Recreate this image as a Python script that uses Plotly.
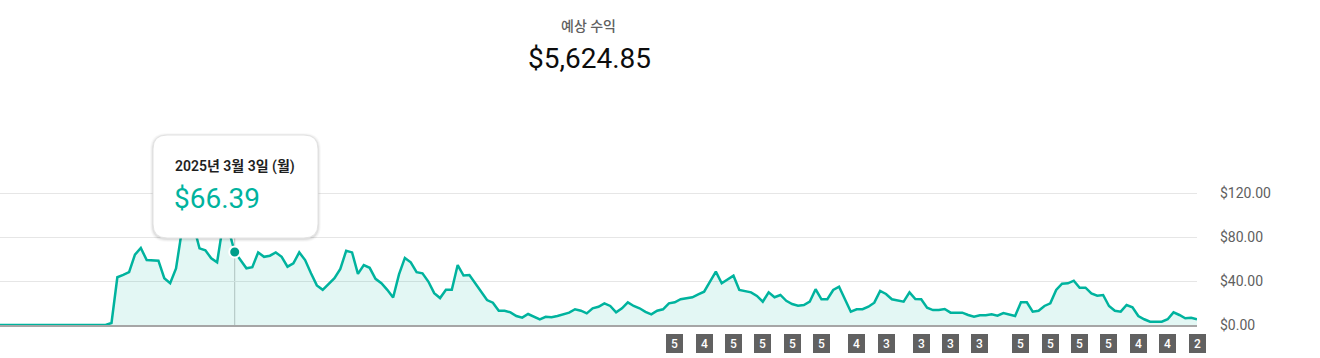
import plotly.graph_objects as go
import pandas as pd

# ---------------- data ----------------
start_date = "2025-01-22"
revenue = [
    0, 0, 0, 0, 0, 0, 0, 0, 0, 0, 0, 0, 0, 0, 0, 0, 0, 0, 0,
    1.8,
    43.4, 45.5, 48, 64, 70, 59, 59, 58.5, 42.5, 38, 51.5, 86, 95, 90, 69.7, 68, 60.6, 57, 91, 86, 66.39,
    58.5, 51.5, 52.5, 66, 62, 63, 66, 62, 53, 56, 66, 59, 47, 36, 32, 37, 42.5, 51, 67.5, 66,
    46.5, 54.5, 52, 42, 38, 32, 25, 46, 61, 57, 48, 47, 39.5, 29, 24.5, 32, 32, 54.5, 45, 45.5,
    38, 30, 22.7, 20.3, 13, 13, 11.5, 8.2, 6.7, 10, 7.5, 5.2, 7.5, 7, 8.2, 10, 11.2, 14.3, 13, 10.6,
    15.2, 16.6, 19.7, 17.3, 11.5, 15.2, 20.6, 17.3, 15.2, 12, 9.7, 13, 14.3, 19.7, 20.6, 23.4, 24.3, 25.2, 27.9, 30.3,
    39.4, 48.5, 38, 41.8, 44.8, 31.8, 30.9, 29.7, 26.4, 21.2, 29.7, 25.2, 27.3, 22, 19.1, 17.5, 18.2, 21.2, 32.5, 23.4,
    23.4, 31.8, 34.8, 22.7, 12.1, 14.3, 14.3, 16.6, 20.3, 30.9, 28.2, 23.4, 22, 21.2, 29.7, 23.6, 23.4, 15.8, 13.6, 13.6,
    14.5, 11.2, 11.2, 11.2, 9.1, 7.5, 8.8, 8.8, 9.7, 8.5, 10.9, 9.7, 8.2, 20.6, 20.6, 12.1, 13, 17.3, 19.7, 31.8,
    37.5, 37.9, 40.3, 33.9, 33.9, 28.8, 26.7, 27.3, 17.3, 13, 12.1, 18.2, 16.1, 8.2, 5.2, 3, 3, 3, 5.2, 11.5, 9.1, 6.1, 6.6, 5.2,
]
dates = pd.date_range(start_date, periods=len(revenue), freq="D")

y_ticks = [0, 40, 80, 120]
y_tick_labels = ["$0.00", "$40.00", "$80.00", "$120.00"]

title_label = "예상 수익"
total_label = "$5,624.85"

highlight_date = "2025-03-03"
highlight_value = 66.39
highlight_label = "2025년 3월 3일 (월)"
highlight_value_label = "$66.39"

marker_dates = ["2025-05-17", "2025-05-22", "2025-05-27", "2025-06-01", "2025-06-06", "2025-06-11",
                "2025-06-17", "2025-06-22", "2025-06-28", "2025-07-03", "2025-07-08",
                "2025-07-15", "2025-07-20", "2025-07-25", "2025-07-30", "2025-08-04", "2025-08-09",
                "2025-08-14"]
marker_counts = [5, 4, 5, 5, 5, 5, 4, 3, 3, 3, 3, 5, 5, 5, 5, 4, 4, 2]

# ---------------- style / layout ----------------
W, H = 1320, 358
PL, PR, PT, PB = 0, 1197, 187, 325
Y_TOP = 120 * (PB - PT) / 132.0   # 120 sits at y=193 px
TEAL = "#00B39E"
FONT = "Roboto, 'Noto Sans CJK KR', sans-serif"


def px(x):
    return (x - PL) / (PR - PL)


def py(y):
    return (PB - y) / (PB - PT)


def rounded_rect(x0, y0, x1, y1, r):
    rx = r / (PR - PL)
    ry = r / (PB - PT)
    X0, X1 = px(x0), px(x1)
    Y0, Y1 = py(y1), py(y0)  # bottom, top in paper
    return (f"M {X0+rx},{Y1} L {X1-rx},{Y1} Q {X1},{Y1} {X1},{Y1-ry} "
            f"L {X1},{Y0+ry} Q {X1},{Y0} {X1-rx},{Y0} "
            f"L {X0+rx},{Y0} Q {X0},{Y0} {X0},{Y0+ry} "
            f"L {X0},{Y1-ry} Q {X0},{Y1} {X0+rx},{Y1} Z")


fig = go.Figure()

fig.add_trace(go.Scatter(
    x=dates, y=revenue, mode="lines",
    line=dict(color=TEAL, width=2.5),
    fill="tozeroy", fillcolor="rgba(0,179,158,0.11)",
    hoverinfo="skip", showlegend=False,
))

fig.add_trace(go.Scatter(
    x=[highlight_date], y=[highlight_value], mode="markers",
    marker=dict(color="#009E8A", size=11, line=dict(color="white", width=2)),
    hoverinfo="skip", showlegend=False, cliponaxis=False,
))

shapes = []
# crosshair
shapes.append(dict(type="line", xref="x", yref="paper", x0=highlight_date, x1=highlight_date,
                   y0=0, y1=py(238), line=dict(color="#c4c4c4", width=1), layer="below"))
# tooltip shadow + box
tx0, ty0, tx1, ty1 = 153, 135, 318, 238
for d, a in [(3, 0.025), (2, 0.04), (1, 0.06)]:
    shapes.append(dict(type="path", xref="paper", yref="paper",
                       path=rounded_rect(tx0 - d, ty0 - d + 1, tx1 + d, ty1 + d + 1, 14 + d),
                       fillcolor=f"rgba(0,0,0,{a})", line=dict(width=0), layer="above"))
shapes.append(dict(type="path", xref="paper", yref="paper",
                   path=rounded_rect(tx0, ty0, tx1, ty1, 14),
                   fillcolor="white", line=dict(color="#e2e2e2", width=1), layer="above"))

annotations = [
    dict(text=title_label, x=px(588), y=py(26), xref="paper", yref="paper",
         showarrow=False, xanchor="center", yanchor="middle",
         font=dict(family=FONT, size=14, color="#606060", weight=500)),
    dict(text=total_label, x=px(589), y=py(58), xref="paper", yref="paper",
         showarrow=False, xanchor="center", yanchor="middle",
         font=dict(family=FONT, size=28, color="#0d0d0d")),
    dict(text=highlight_label, x=px(173), y=py(166), xref="paper", yref="paper",
         showarrow=False, xanchor="left", yanchor="middle",
         font=dict(family=FONT, size=14, color="#1f1f1f", weight=600)),
    dict(text=highlight_value_label, x=px(172), y=py(198), xref="paper", yref="paper",
         showarrow=False, xanchor="left", yanchor="middle",
         font=dict(family=FONT, size=28, color=TEAL)),
]

for d, c in zip(marker_dates, marker_counts):
    annotations.append(dict(
        text=str(c), x=d, xref="x", y=py(343), yref="paper",
        showarrow=False, xanchor="center", yanchor="middle",
        width=13, height=15, borderpad=1, borderwidth=1,
        bgcolor="#616161", bordercolor="#616161",
        font=dict(family=FONT, size=12, color="white", weight=500),
    ))

fig.update_layout(
    width=W, height=H,
    margin=dict(l=PL, r=W - PR, t=PT, b=H - PB, pad=0),
    paper_bgcolor="white", plot_bgcolor="white",
    shapes=shapes, annotations=annotations,
    hovermode=False,
    xaxis=dict(type="date", range=[dates[0], dates[-1]], showgrid=False, zeroline=False,
               showticklabels=False, ticks="", showline=True, linecolor="#a6a6a6", linewidth=1.5,
               fixedrange=True),
    yaxis=dict(side="right", range=[0, Y_TOP], tickvals=y_ticks, ticktext=y_tick_labels,
               showgrid=True, gridcolor="#e6e6e6", gridwidth=1, zeroline=False, showline=False,
               ticks="", ticklabelstandoff=22,
               tickfont=dict(family=FONT, size=14, color="#606060"), fixedrange=True),
)

fig.write_html("out.html", config={"displayModeBar": False})
